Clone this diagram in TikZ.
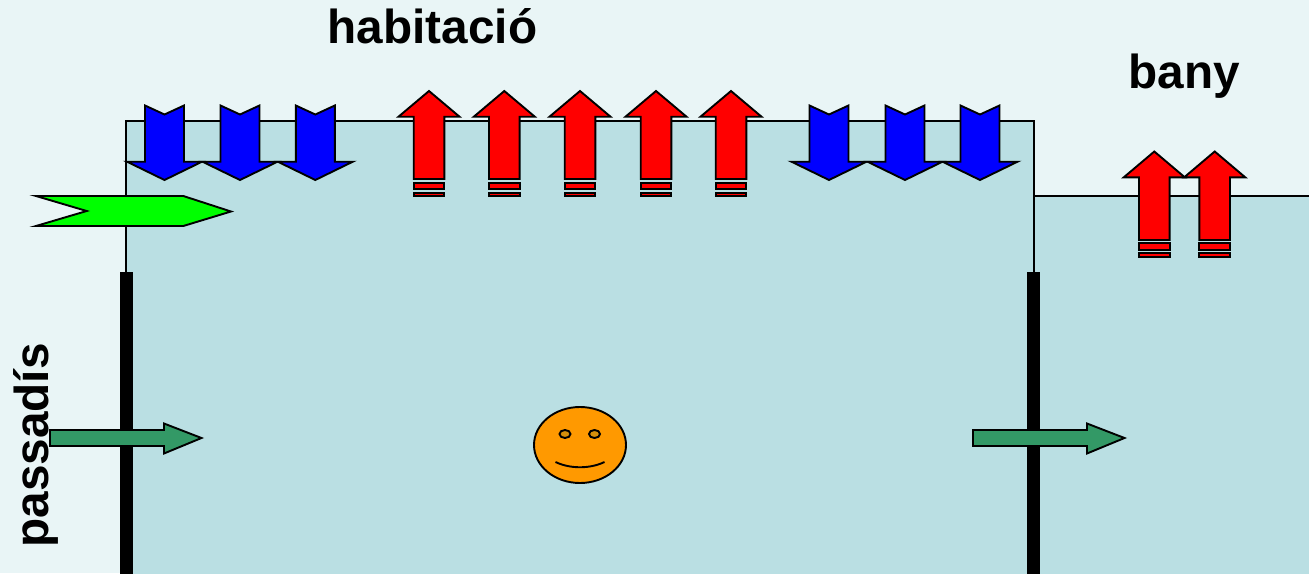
\documentclass[tikz,border=0pt]{standalone}
\usepackage{fontspec}
\setmainfont{Liberation Sans}
\definecolor{bgc}{HTML}{E9F5F6}
\definecolor{roomc}{HTML}{BADFE3}
\definecolor{tealc}{HTML}{339966}
\definecolor{orangec}{HTML}{FF9900}
\definecolor{eyec}{HTML}{D58F0B}
\tikzset{
  shp/.style={draw=black,line width=1.9pt,line join=miter,miter limit=10},
  bluearrow/.style={shp,fill=blue},
  redarrow/.style={shp,fill=red},
  greenarrow/.style={shp,fill=green},
  tealarrow/.style={shp,fill=tealc},
  wall/.style={fill=black},
  room/.style={draw=black,line width=1.6pt,fill=roomc},
  lbl/.style={font=\bfseries\fontsize{47.7}{48}\selectfont,inner sep=0pt,text=black}
}
\newcommand{\bluedown}[1]{%
  \begin{scope}[shift={(#1,0)}]
  \draw[bluearrow] (-19.5,105.5) -- (0,114.5) -- (19.5,105.5) -- (19.5,161.7) -- (37.5,161.7) -- (0,180) -- (-37.5,161.7) -- (-19.5,161.7) -- cycle;
  \end{scope}}
\newcommand{\redup}[8]{%
  \begin{scope}[shift={(#1,0)}]
  \draw[redarrow] (0,#2) -- (30.5,#3) -- (15.3,#3) -- (15.3,#4) -- (-15.3,#4) -- (-15.3,#3) -- (-30.5,#3) -- cycle;
  \draw[redarrow] (-15.3,#5) rectangle (15.3,#6);
  \draw[redarrow] (-15.3,#7) rectangle (15.3,#8);
  \end{scope}}
\newcommand{\tealright}[1]{%
  \begin{scope}[shift={(#1,0)}]
  \draw[tealarrow] (0,430) -- (114,430) -- (114,423.5) -- (151.5,438) -- (114,453.5) -- (114,446) -- (0,446) -- cycle;
  \end{scope}}
\begin{document}
\begin{tikzpicture}[x=1pt,y=-1pt]
\useasboundingbox (0,0) rectangle (1309,573);
\fill[bgc] (0,0) rectangle (1309,573);
% rooms
\draw[room] (126,600) -- (126,121) -- (1034,121) -- (1034,600);
\draw[room] (1034,600) -- (1034,196) -- (1340,196) -- (1340,600);
% walls
\fill[wall] (120,272) rectangle (133,600);
\fill[wall] (1027,272) rectangle (1040,600);
% labels
\node[lbl] (hab) at (432.5,26.5) {habitació};
\node[lbl] (ban) at (1184.5,76.5) {bany};
\node[lbl,rotate=90] (pas) at (35.5,445.5) {passadís};
% blue
\foreach \c in {315.3,240,164.5} {\bluedown{\c}}
\foreach \c in {980,905,829} {\bluedown{\c}}
% red
\foreach \c in {429,504.3,580,656,731} {\redup{\c}{91}{116.7}{179}{182.7}{189}{192.7}{196.3}}
\foreach \c in {1214.7,1154.3} {\redup{\c}{151.5}{177.3}{240}{243}{250}{253}{257}}
% green
\draw[greenarrow] (36,196) -- (183.3,196) -- (231,211.5) -- (183.3,226) -- (36,226) -- (86.7,211) -- cycle;
% teal
\tealright{50}
\tealright{973}
% face
\draw[shp,fill=orangec] (580,445) ellipse [x radius=46,y radius=38];
\draw[shp,fill=eyec] (565,434) ellipse [x radius=5.5,y radius=4];
\draw[shp,fill=eyec] (594.5,434) ellipse [x radius=5.5,y radius=4];
\draw[shp] (555.5,462) .. controls (570,469) and (590,469) .. (604.5,462);
\end{tikzpicture}
\end{document}
